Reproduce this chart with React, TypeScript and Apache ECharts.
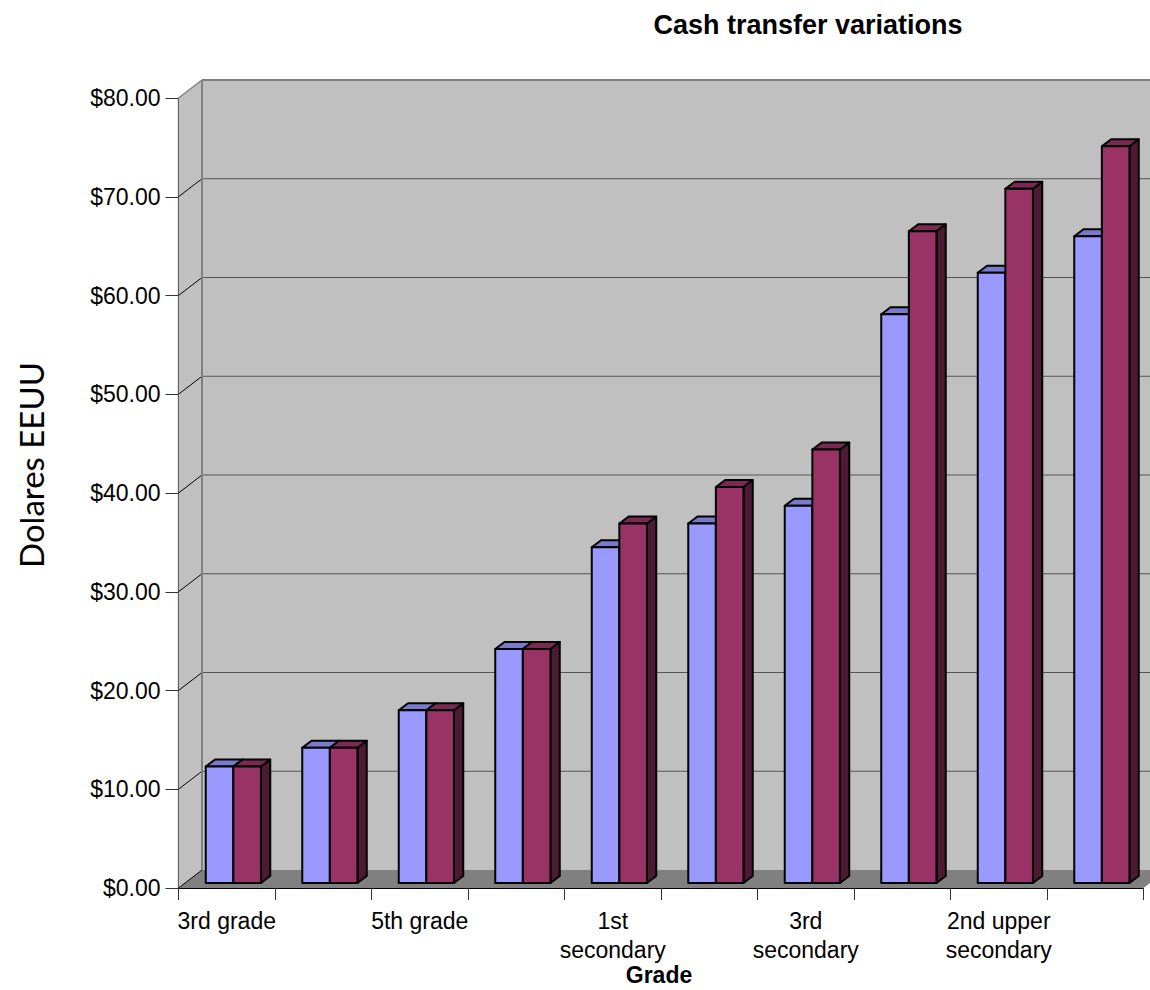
import React, { useEffect, useRef } from "react";
import * as echarts from "echarts";

const categories = [
  "3rd grade",
  "4th grade",
  "5th grade",
  "6th grade",
  "1st\nsecondary",
  "2nd\nsecondary",
  "3rd\nsecondary",
  "1st upper\nsecondary",
  "2nd upper\nsecondary",
  "3rd upper\nsecondary",
];
const seriesA = [11.8, 13.7, 17.5, 23.7, 34.0, 36.4, 38.2, 57.6, 61.8, 65.5];
const seriesB = [11.8, 13.7, 17.5, 23.7, 36.4, 40.1, 43.9, 66.0, 70.3, 74.6];
const yTicks = [0, 10, 20, 30, 40, 50, 60, 70, 80];

const WALL_DX = 23.5;
const WALL_DY = -18;
const BAR_OFF_X = 6.6;
const BAR_OFF_Y = -5;
const BAR_DX = 9.3;
const BAR_DY = -7;
const BAR_RATIO = 27.6 / 96.5;

function wallItem(params: any, api: any) {
  const cs = params.coordSys;
  const x0 = cs.x;
  const x1 = cs.x + cs.width;
  const y0 = cs.y + cs.height;
  const y1 = cs.y;
  const children: any[] = [
    {
      type: "polygon",
      shape: { points: [[x0 + WALL_DX, y1 + WALL_DY], [x1 + WALL_DX, y1 + WALL_DY], [x1 + WALL_DX, y0 + WALL_DY], [x0 + WALL_DX, y0 + WALL_DY]] },
      style: { fill: "#c0c0c0", stroke: "none" },
    },
    {
      type: "polygon",
      shape: { points: [[x0, y1], [x0 + WALL_DX, y1 + WALL_DY], [x0 + WALL_DX, y0 + WALL_DY], [x0, y0]] },
      style: { fill: "#c0c0c0", stroke: "none" },
    },
    {
      type: "polygon",
      shape: { points: [[x0, y0], [x0 + WALL_DX, y0 + WALL_DY], [x1 + WALL_DX, y0 + WALL_DY], [x1, y0]] },
      style: { fill: "#808080", stroke: "none" },
    },
  ];
  yTicks.forEach((t) => {
    const y = api.coord([0, t])[1];
    const edge = t === yTicks[yTicks.length - 1];
    children.push({
      type: "line",
      shape: { x1: x0, y1: y, x2: x0 + WALL_DX, y2: y + WALL_DY },
      style: { stroke: edge ? "#808080" : "#000000", lineWidth: edge ? 1.5 : 1 },
    });
    if (t !== 0) {
      children.push({
        type: "line",
        shape: { x1: x0 + WALL_DX, y1: y + WALL_DY, x2: x1 + WALL_DX, y2: y + WALL_DY },
        style: { stroke: edge ? "#808080" : "#555555", lineWidth: edge ? 2 : 1 },
      });
    }
  });
  children.push({
    type: "line",
    shape: { x1: x0 + WALL_DX, y1: y1 + WALL_DY, x2: x0 + WALL_DX, y2: y0 + WALL_DY },
    style: { stroke: "#808080", lineWidth: 2 },
  });
  return { type: "group", children };
}

function barItem(slot: number, front: string, top: string, side: string) {
  return (params: any, api: any) => {
    const band = api.size([1, 0])[0];
    const w = band * BAR_RATIO;
    const c = api.coord([api.value(0), api.value(1)]);
    const b = api.coord([api.value(0), 0]);
    const x = c[0] + BAR_OFF_X - w + slot * w;
    const yt = c[1] + BAR_OFF_Y;
    const yb = b[1] + BAR_OFF_Y;
    const edge = { stroke: "#000000", lineWidth: 2, lineJoin: "round" };
    return {
      type: "group",
      children: [
        {
          type: "polygon",
          shape: { points: [[x + w, yt], [x + w + BAR_DX, yt + BAR_DY], [x + w + BAR_DX, yb + BAR_DY], [x + w, yb]] },
          style: { fill: side, ...edge },
        },
        {
          type: "polygon",
          shape: { points: [[x, yt], [x + BAR_DX, yt + BAR_DY], [x + w + BAR_DX, yt + BAR_DY], [x + w, yt]] },
          style: { fill: top, ...edge },
        },
        {
          type: "rect",
          shape: { x, y: yt, width: w, height: yb - yt },
          style: { fill: front, ...edge },
        },
      ],
    };
  };
}

export default function App() {
  const ref = useRef<HTMLDivElement>(null);
  useEffect(() => {
    const chart = echarts.init(ref.current!, undefined, { renderer: "svg" });
    chart.setOption({
      animation: false,
      backgroundColor: "#ffffff",
      textStyle: { fontFamily: "Liberation Sans" },
      title: {
        text: "Cash transfer variations",
        left: 803,
        top: 6,
        textAlign: "center",
        textStyle: { fontFamily: "Liberation Sans", fontWeight: "bold", fontSize: 27, color: "#000" },
      },
      graphic: [
        {
          type: "text",
          x: 31,
          y: 465,
          rotation: Math.PI / 2,
          style: {
            text: "Dolares EEUU",
            fontFamily: "Lato",
            fontSize: 33,
            fill: "#000",
            textAlign: "center",
            textVerticalAlign: "middle",
          },
        },
      ],
      grid: { left: 178.5, top: 98, width: 965, height: 790, outerBoundsMode: "none" },
      xAxis: {
        type: "category",
        data: categories,
        name: "Grade",
        nameLocation: "middle",
        nameMoveOverlap: false,
        nameGap: 78,
        nameTextStyle: { fontFamily: "Liberation Sans", fontWeight: "bold", fontSize: 23, lineHeight: 18, color: "#000", padding: [0, 4, 0, 0] },
        axisLine: { lineStyle: { color: "#000", width: 1.2 } },
        axisTick: { show: true, interval: 0, length: 12, lineStyle: { color: "#333", width: 1 } },
        axisLabel: { interval: 1, margin: 18, fontSize: 23, lineHeight: 29, color: "#000", fontFamily: "Liberation Sans" },
      },
      yAxis: {
        type: "value",
        min: 0,
        max: 80,
        interval: 10,
        splitLine: { show: false },
        axisLine: { show: true, lineStyle: { color: "#000", width: 1.2 } },
        axisTick: { show: true, length: 13, lineStyle: { color: "#333", width: 1 } },
        axisLabel: {
          margin: 18,
          fontSize: 23,
          color: "#000",
          fontFamily: "Liberation Sans",
          formatter: (v: number) => "$" + v.toFixed(2),
        },
      },
      series: [
        { type: "custom", name: "walls", silent: true, clip: false, z: 1, data: [[0, 0]], renderItem: wallItem },
        {
          type: "custom",
          name: "Series A",
          clip: false,
          z: 2,
          encode: { x: 0, y: 1 },
          data: seriesA.map((v, i) => [i, v]),
          renderItem: barItem(0, "#9999ff", "#7a7acc", "#4d4d80"),
        },
        {
          type: "custom",
          name: "Series B",
          clip: false,
          z: 3,
          encode: { x: 0, y: 1 },
          data: seriesB.map((v, i) => [i, v]),
          renderItem: barItem(1, "#993366", "#7a2952", "#4d1a33"),
        },
      ],
    });
    return () => chart.dispose();
  }, []);
  return <div ref={ref} style={{ position: "absolute", left: 0, top: 0, width: 1150, height: 990 }} />;
}
